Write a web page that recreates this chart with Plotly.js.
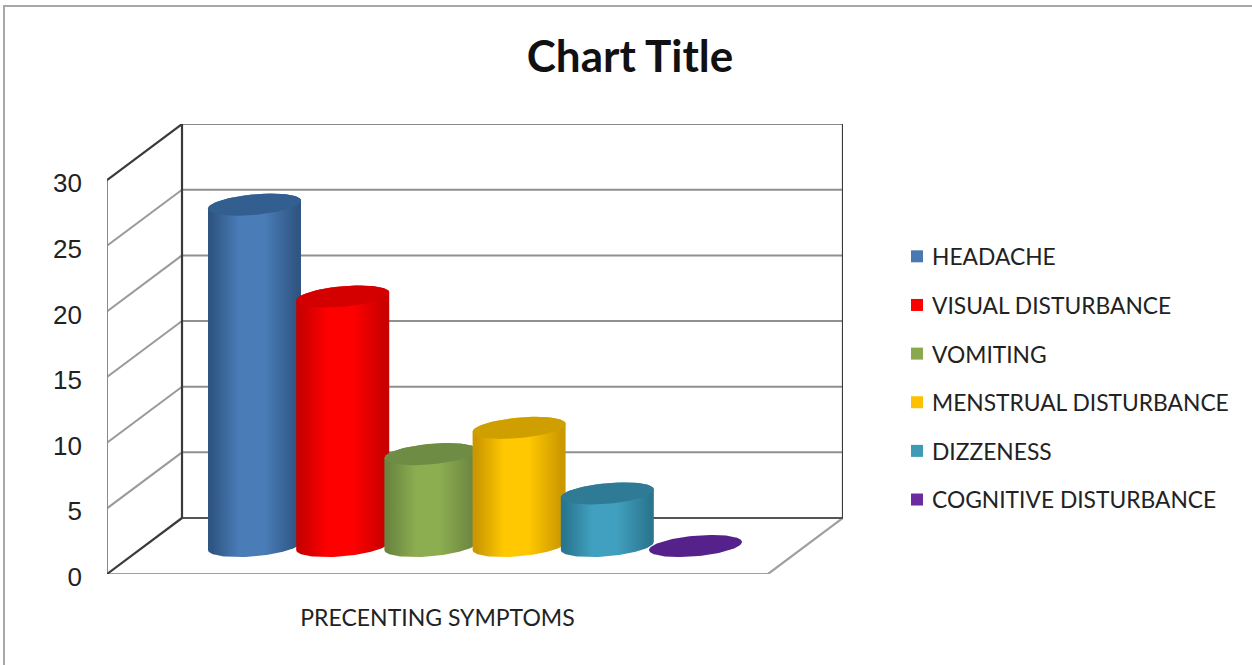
<!DOCTYPE html>
<html>
<head>
<meta charset="utf-8">
<script src="https://cdn.plot.ly/plotly-3.0.1.min.js"></script>
<style>
html,body{margin:0;padding:0;background:#fff;width:1252px;height:665px;overflow:hidden}
#frame{position:absolute;left:3px;top:5px;right:0;bottom:0;border-left:2px solid #a8a8a8;border-top:2px solid #a8a8a8}
#chart{position:absolute;left:0;top:0;width:1252px;height:665px}
</style>
</head>
<body>
<div id="frame"></div>
<div id="chart"></div>
<script>
// ---- data ----
const categories = ["HEADACHE","VISUAL DISTURBANCE","VOMITING","MENSTRUAL DISTURBANCE","DIZZENESS","COGNITIVE DISTURBANCE"];
const values = [26, 19, 7, 9, 4, 0];
const axisTicks = [0, 5, 10, 15, 20, 25, 30];
const axisCategory = "PRECENTING SYMPTOMS";

// ---- styles ----
const legendColors = ["#4a78b0","#ff0000","#8aa84d","#ffc000","#3f9bb5","#6b2ca0"];
const edgeColors   = ["#2f5583","#c80000","#6b8540","#cc9800","#2a7690","#4f2182"];
const midColors    = ["#4a7db8","#ff0000","#8cad50","#ffc800","#41a0bf","#4f2182"];
const capColors    = ["#335f90","#d40000","#6f8c45","#cf9f00","#2f7a95","#54228a"];

// ---- scale of the drawing (pixels per axis unit) ----
const W = 1252, H = 665;
const plot = {l:107, r:843, t:124, b:574};
const pxPerSlot = 88.2, pxPerUnit = 13.13;
const depthX = 75 / pxPerSlot, depthY = 56 / pxPerUnit;
const floorW = 661 / pxPerSlot;
const gapSlots = (floorW - categories.length) / 2;
const rangeX = (plot.r - plot.l) / pxPerSlot, rangeY = (plot.b - plot.t) / pxPerUnit;
const topV = axisTicks[axisTicks.length - 1];
const rx = 46.5 / pxPerSlot, ry = 10.3 / pxPerUnit, tilt = (4 / pxPerUnit) / rx;

function line(x, y, color, width) {
  return {type:'scatter', mode:'lines', x, y, showlegend:false, hoverinfo:'skip', cliponaxis:false,
          line:{color, width}};
}
const traces = [];

// real bars carry the values and the legend
categories.forEach((name, i) => {
  traces.push({type:'bar', name, x:[gapSlots + i + 0.5 + depthX/2], y:[values[i]], base:[depthY/2],
    width:[0.8], marker:{color:legendColors[i]}, legendgroup:name, showlegend:true,
    hovertemplate:name + ': %{y}<extra></extra>'});
});

// walls
const gx = [], gy = [], sx = [], sy = [];
axisTicks.forEach(v => {
  if (v > 0 && v < topV) {
    gx.push(depthX, rangeX, null); gy.push(v + depthY, v + depthY, null);
    sx.push(0, depthX, null);      sy.push(v, v + depthY, null);
  }
});
traces.push(line(gx, gy, '#8f8f8f', 2));
traces.push(line(sx, sy, '#9a9a9a', 2));
traces.push(line([depthX, rangeX], [topV + depthY, topV + depthY], '#8a8a8a', 2));
traces.push(line([0, 0], [0, topV], '#8a8a8a', 2));
traces.push(line([0, floorW, floorW + depthX], [0, 0, depthY], '#a0a0a0', 2.2));
traces.push(line([depthX, rangeX], [depthY, depthY], '#555555', 2));
traces.push(line([0, depthX, depthX], [topV, topV + depthY, 0 + depthY], '#3a3a3a', 2.2));
traces.push(line([rangeX, rangeX], [topV + depthY, depthY], '#3a3a3a', 2.2));
traces.push(line([0, depthX], [0, depthY], '#3a3a3a', 2.2));

// cylinders
function pt(cx, cy, t) {
  return [cx + rx * Math.cos(t), cy + ry * Math.sin(t) + tilt * rx * Math.cos(t)];
}
const N = 48;
categories.forEach((name, i) => {
  const cx = gapSlots + i + 0.5 + depthX / 2, y0 = depthY / 2, y1 = y0 + values[i];
  const bx = [], by = [], tx = [], ty = [];
  for (let k = 0; k <= N; k++) {             // upper arc of the cap, left to right
    const p = pt(cx, y1, Math.PI - Math.PI * k / N); bx.push(p[0]); by.push(p[1]);
  }
  for (let k = 0; k <= N; k++) {             // lower arc of the foot, right to left
    const p = pt(cx, y0, -Math.PI * k / N); bx.push(p[0]); by.push(p[1]);
  }
  for (let k = 0; k <= 2 * N; k++) {         // whole cap
    const p = pt(cx, y1, Math.PI * k / N); tx.push(p[0]); ty.push(p[1]);
  }
  if (values[i] > 0) {
    traces.push({type:'scatter', mode:'lines', x:bx, y:by, fill:'toself', showlegend:false, hoverinfo:'skip',
      cliponaxis:false, line:{width:0, color:midColors[i]},
      fillgradient:{type:'horizontal', colorscale:[[0,edgeColors[i]],[0.04,edgeColors[i]],[0.34,midColors[i]],[0.6,midColors[i]],[0.96,edgeColors[i]],[1,edgeColors[i]]]}});
  }
  traces.push({type:'scatter', mode:'lines', x:tx, y:ty, fill:'toself', fillcolor:capColors[i], showlegend:false,
    hoverinfo:'skip', cliponaxis:false, line:{width:0, color:capColors[i]}});
});

const sans = 'Lato, "Open Sans", sans-serif';
const layout = {
  width:W, height:H, autosize:false,
  paper_bgcolor:'rgba(0,0,0,0)', plot_bgcolor:'rgba(0,0,0,0)',
  margin:{l:plot.l, r:W - plot.r, t:plot.t, b:H - plot.b, pad:0},
  barmode:'overlay',
  title:{text:'Chart Title', font:{family:sans, size:44, color:'#111', weight:700},
         x:630/W, xref:'container', xanchor:'center', y:1-57/H, yref:'container', yanchor:'middle'},
  xaxis:{range:[0, rangeX], showgrid:false, zeroline:false, showline:false, ticks:'',
         tickmode:'array', tickvals:[floorW/2], ticktext:[axisCategory], ticklabelstandoff:28,
         tickfont:{family:sans, size:23, color:'#222'}},
  yaxis:{range:[0, rangeY], showgrid:false, zeroline:false, showline:false, ticks:'',
         tickmode:'array', tickvals:axisTicks, ticktext:axisTicks.map(String), ticklabelstandoff:24,
         ticklabelshift:3,
         tickfont:{family:'"Liberation Sans", Arial, sans-serif', size:26, color:'#222'}},
  legend:{xref:'container', yref:'container', x:892/W, y:1-235/H, xanchor:'left', yanchor:'top',
          tracegroupgap:16, traceorder:'grouped', bgcolor:'rgba(0,0,0,0)',
          font:{family:sans, size:22.8, color:'#222'}},
  showlegend:true
};
Plotly.newPlot('chart', traces, layout, {displayModeBar:false, responsive:false}).then(gd => {
  // the reference keeps its legend squares closer to their labels
  gd.querySelectorAll('.legend .legendsymbols').forEach(s => s.setAttribute('transform', 'translate(5,0)'));
});
</script>
</body>
</html>
